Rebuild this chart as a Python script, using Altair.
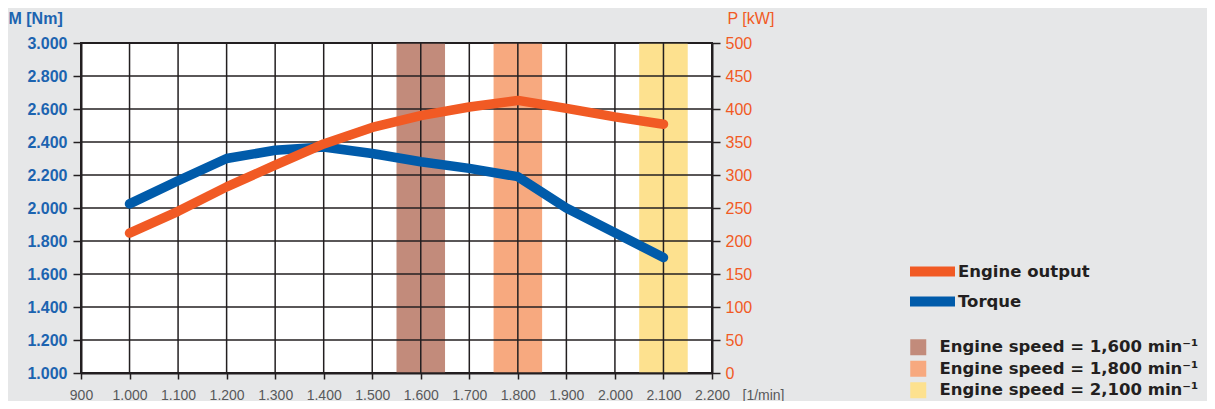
import altair as alt
import pandas as pd

rpm = [1000, 1100, 1200, 1300, 1400, 1500, 1600, 1700, 1800, 1900, 2000, 2100]
torque = [2025, 2165, 2300, 2350, 2370, 2330, 2280, 2240, 2190, 2000, 1850, 1700]
power = [212, 245, 282, 315, 347, 372, 390, 403, 413, 401, 388, 377]

band_labels = ["Engine speed = 1,600 min\u207b\u00b9", "Engine speed = 1,800 min\u207b\u00b9", "Engine speed = 2,100 min\u207b\u00b9"]
band_start = [1550, 1750, 2050]
band_end = [1650, 1850, 2150]
band_colors = ["#c28b7b", "#f7a97f", "#fde18f"]

series_names = ["Engine output", "Torque"]
series_colors = ["#f15a24", "#005baa"]

x_ticks = list(range(900, 2201, 100))
m_ticks = list(range(1000, 3001, 200))
p_ticks = list(range(0, 501, 50))

df_t = pd.DataFrame({"rpm": rpm, "val": torque, "series": "Torque"})
df_p = pd.DataFrame({"rpm": rpm, "val": power, "series": "Engine output"})
df_b = pd.DataFrame({"label": band_labels, "start": band_start, "end": band_end})
df_xg = pd.DataFrame({"v": x_ticks})
df_mg = pd.DataFrame({"v": m_ticks})

BLACK = "#231f20"
BLUE = "#1c64b0"
ORANGE = "#f15a24"
GRAY = "#58595b"
LEGFONT = "DejaVu Sans"

dot_fmt = "replace(format(datum.value, ','), ',', '.')"

xaxis = alt.Axis(values=x_ticks, labelExpr=dot_fmt, grid=False, title="[1/min]",
                 titleAngle=0, titleAlign="left", titleBaseline="middle", titleX=661, titleY=22,
                 titleColor=GRAY, titleFontSize=14, titleFontWeight="normal", titleFont="Liberation Sans",
                 labelColor=GRAY, labelFontSize=14, labelFont="Liberation Sans", labelOverlap=False,
                 labelFlush=False,
                 tickColor=BLACK, tickWidth=1.5, tickSize=6, labelPadding=9,
                 domainColor=BLACK, domainWidth=2)
xscale = alt.Scale(domain=[900, 2200], nice=False)

maxis = alt.Axis(values=m_ticks, labelExpr=dot_fmt, grid=False, title="M [Nm]", orient="left",
                 titleAngle=0, titleAlign="left", titleBaseline="middle", titleX=-73, titleY=-25,
                 titleColor=BLUE, titleFontSize=16, titleFontWeight="bold", titleFont="Liberation Sans",
                 labelColor=BLUE, labelFontSize=16, labelFontWeight="bold", labelFont="Liberation Sans",
                 labelOverlap=False, labelFlush=False,
                 tickColor=BLACK, tickWidth=1.5, tickSize=8, labelPadding=6,
                 domainColor=BLACK, domainWidth=2)
mscale = alt.Scale(domain=[1000, 3000], nice=False)

paxis = alt.Axis(values=p_ticks, grid=False, title="P [kW]", orient="right",
                 titleAngle=0, titleAlign="left", titleBaseline="middle", titleX=15, titleY=-25,
                 titleColor=ORANGE, titleFontSize=16, titleFontWeight="normal", titleFont="Liberation Sans",
                 labelColor=ORANGE, labelFontSize=16, labelFont="Liberation Sans", labelOverlap=False,
                 labelFlush=False,
                 tickColor=BLACK, tickWidth=1.5, tickSize=8, labelPadding=5,
                 domainColor=BLACK, domainWidth=2)
pscale = alt.Scale(domain=[0, 500], nice=False)

stroke_enc = alt.Stroke("series:N",
                        scale=alt.Scale(domain=series_names, range=series_colors),
                        legend=alt.Legend(title=None, orient="none", legendX=842, legendY=219,
                                          symbolType="M-5,0H5", symbolSize=81, symbolStrokeWidth=10,
                                          labelFontSize=16.5, labelFont=LEGFONT, labelFontWeight="bold",
                                          labelColor=BLACK, rowPadding=-21, labelOffset=16, labelLimit=400))

bands = alt.Chart(df_b).mark_rect().encode(
    x=alt.X("start:Q", scale=xscale, axis=xaxis),
    x2="end:Q",
    fill=alt.Fill("label:N", scale=alt.Scale(domain=band_labels, range=band_colors),
                  legend=alt.Legend(title=None, orient="none", legendX=829, legendY=296,
                                    symbolType="square", symbolSize=256, symbolStrokeWidth=0,
                                    labelFontSize=16.5, labelFont=LEGFONT, labelFontWeight="bold",
                                    labelColor=BLACK, rowPadding=4.5, labelOffset=13, labelLimit=400)),
)

vgrid = alt.Chart(df_xg).mark_rule(color=BLACK, strokeWidth=1.5).encode(
    x=alt.X("v:Q", scale=xscale, axis=xaxis))
hgrid = alt.Chart(df_mg).mark_rule(color=BLACK, strokeWidth=1.5).encode(
    y=alt.Y("v:Q", scale=mscale, axis=maxis))

torque_line = alt.Chart(df_t).mark_line(strokeWidth=9.5, strokeCap="round", strokeJoin="round").encode(
    x=alt.X("rpm:Q", scale=xscale, axis=xaxis),
    y=alt.Y("val:Q", scale=mscale, axis=maxis),
    stroke=stroke_enc,
)

power_line = alt.Chart(df_p).mark_line(strokeWidth=9.5, strokeCap="round", strokeJoin="round").encode(
    x=alt.X("rpm:Q", scale=xscale, axis=xaxis),
    y=alt.Y("val:Q", scale=pscale, axis=paxis),
    stroke=stroke_enc,
)

left = alt.layer(bands, vgrid, hgrid, torque_line)
chart = alt.layer(left, power_line).resolve_scale(y="independent").properties(
    width=631, height=330,
    padding={"left": 73, "top": 35, "right": 495, "bottom": 28},
    autosize=alt.AutoSizeParams(type="none"),
    background="#e6e7e8",
).configure_view(fill="white", stroke=BLACK, strokeWidth=2)

chart.save("out.html", embed_options={"renderer": "svg", "actions": False})
